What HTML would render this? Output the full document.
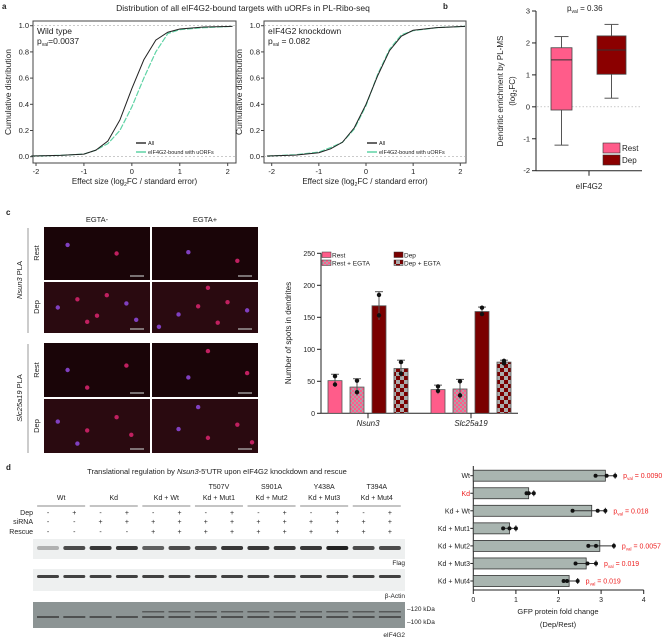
<!DOCTYPE html>
<html><head><meta charset="utf-8"><style>
body{margin:0;background:#fff}
svg{display:block;font-family:"Liberation Sans",sans-serif}
</style></head><body>
<svg id="fig" width="669" height="639" viewBox="0 0 669 639"></svg>
<script>
// ---- Panel a data ----
const cdfX = [-2.1,-1.5,-1,-0.75,-0.5,-0.25,0,0.25,0.5,0.75,1,1.5,2.1];
const wtAll = [0.005,0.01,0.02,0.05,0.12,0.28,0.52,0.74,0.89,0.95,0.975,0.99,0.995];
const wtUorf = [0.005,0.01,0.02,0.05,0.10,0.20,0.38,0.60,0.80,0.94,0.97,0.985,0.995];
const kdAll = [0.005,0.012,0.03,0.06,0.11,0.22,0.40,0.62,0.81,0.92,0.965,0.985,0.995];
const kdUorf = [0.005,0.015,0.035,0.07,0.11,0.21,0.39,0.63,0.82,0.93,0.962,0.985,0.995];
const cdfTicksX = [-2,-1,0,1,2];
const cdfTicksY = [0,0.2,0.4,0.6,0.8,1.0];
// ---- Panel b data ----
const boxGroups = ["Rest","Dep"];
const boxMin = [-1.2,0.27];
const boxQ1 = [-0.1,1.02];
const boxMed = [1.47,1.78];
const boxQ3 = [1.85,2.22];
const boxMax = [2.2,2.58];
const boxTicks = [-2,-1,0,1,2,3];
// ---- Panel c data ----
const cGenes = ["Nsun3","Slc25a19"];
const cConds = ["Rest","Rest + EGTA","Dep","Dep + EGTA"];
const cVals = [[51,41,168,70],[37,38,159,80]];
const cErr = [[10,13,22,13],[7,15,7,3]];
const cPts = [[[58,45],[51,33],[185,153],[80,62]],[[42,35],[50,28],[165,155],[78,82]]];
const cTicks = [0,50,100,150,200,250];
// ---- Panel d data ----
const dCats = ["Wt","Kd","Kd + Wt","Kd + Mut1","Kd + Mut2","Kd + Mut3","Kd + Mut4"];
const dVals = [3.1,1.3,2.78,0.85,2.97,2.65,2.25];
const dPts = [[2.87,3.13,3.33],[1.25,1.3,1.42],[2.33,2.92,3.1],[0.7,0.85,1.0],[2.7,2.88,3.3],[2.4,2.68,2.88],[2.12,2.2,2.45]];
const dPvals = ["0.0090","","0.018","","0.0057","0.019","0.019"];
const dTicks = [0,1,2,3,4];

const NS="http://www.w3.org/2000/svg";
const svg=document.getElementById('fig');
function el(tag,attrs,parent,txt){const e=document.createElementNS(NS,tag);for(const k in attrs)e.setAttribute(k,attrs[k]);if(txt!==undefined)e.textContent=txt;(parent||svg).appendChild(e);return e;}
function txt(x,y,s,size,opts,parent){opts=opts||{};const a={x:x,y:y,'font-size':size,fill:opts.fill||'#222'};if(opts.anchor)a['text-anchor']=opts.anchor;if(opts.weight)a['font-weight']=opts.weight;if(opts.style)a['font-style']=opts.style;if(opts.rot)a.transform='rotate(-90 '+x+' '+y+')';const t=el('text',a,parent,s);return t;}

[['a',2,9],['b',443,9],['c',6,215],['d',6,470]].forEach(p=>{const t=txt(p[1],p[2],p[0],8,{weight:'bold'});});

// ===== Panel a =====
let t=txt(243,11,"Distribution of all eIF4G2-bound targets with uORFs in PL-Ribo-seq",8.5,{anchor:'middle'});

function cdfPanel(name,fx0,fx1,fy0,fy1,xm2,x2,label,pv,allD,uD){
  const g=el('g',{},svg);
  const sx=v=>xm2+(v+2)/4*(x2-xm2);
  const yb=156.7,yt=25.7;const sy=v=>yb-v*(yb-yt);
  el('rect',{x:fx0,y:fy0,width:fx1-fx0,height:fy1-fy0,fill:'none',stroke:'#444','stroke-width':1},g);
  [0,1].forEach(v=>el('line',{x1:fx0,x2:fx1,y1:sy(v),y2:sy(v),stroke:'#aaa','stroke-dasharray':'2,2','stroke-width':0.6},g));
  cdfTicksY.forEach(v=>{el('line',{x1:fx0-3,x2:fx0,y1:sy(v),y2:sy(v),stroke:'#444'},g);txt(fx0-4,sy(v)+2.5,v.toFixed(1),7.5,{anchor:'end'},g);});
  cdfTicksX.forEach(v=>{el('line',{x1:sx(v),x2:sx(v),y1:fy1,y2:fy1+3,stroke:'#444'},g);txt(sx(v),fy1+11,String(v),7.5,{anchor:'middle'},g);});
  const mk=d=>cdfX.map((x,i)=>sx(x)+','+sy(d[i])).join(' ');
  let l=el('polyline',{points:mk(uD),fill:'none',stroke:'#5fd3a5','stroke-width':1.2,'stroke-dasharray':'6,1.5'},g);
  l=el('polyline',{points:mk(allD),fill:'none',stroke:'#222','stroke-width':1},g);
  txt(fx0+4,fy0+13,label,8.5,{},g);
  const p=el('text',{x:fx0+4,y:fy0+23,'font-size':8.5,fill:'#222'},g);
  p.innerHTML='p<tspan font-size="5" dy="2">val</tspan><tspan dy="-2">'+pv+'</tspan>';
  const lg=el('g',{},g);
  el('line',{x1:fx0+103,x2:fx0+113,y1:143,y2:143,stroke:'#333','stroke-width':1.5},lg);txt(fx0+115,145,'All',5.5,{},lg);
  el('line',{x1:fx0+103,x2:fx0+113,y1:152,y2:152,stroke:'#5fd3a5','stroke-width':1.5},lg);txt(fx0+115,154,'eIF4G2-bound with uORFs',5.5,{},lg);
  txt(fx0-22,(fy0+fy1)/2,'Cumulative distribution',8.5,{anchor:'middle',rot:1},g);
  const xl=el('text',{x:(fx0+fx1)/2,y:184,'font-size':8,fill:'#222','text-anchor':'middle'},g);
  xl.innerHTML='Effect size (log<tspan font-size="5" dy="2">2</tspan><tspan dy="-2">FC / standard error)</tspan>';
}
cdfPanel('cdf-wild-type',33,236,21,163,36,227.7,'Wild type','=0.0037',wtAll,wtUorf);
cdfPanel('cdf-knockdown',264,466,21,163,271.7,460.3,'eIF4G2 knockdown',' = 0.082',kdAll,kdUorf);

// ===== Panel b =====
(function(){
  const g=el('g',{},svg);
  const y0=170.7,y3=11;const sy=v=>y0-(v+2)/5*(y0-y3);
  el('line',{x1:536,x2:536,y1:y3,y2:y0,stroke:'#222'},g);
  el('line',{x1:536,x2:642,y1:y0,y2:y0,stroke:'#222'},g);
  el('line',{x1:589,x2:589,y1:y0,y2:y0+5,stroke:'#222'},g);
  boxTicks.forEach(v=>{el('line',{x1:532,x2:536,y1:sy(v),y2:sy(v),stroke:'#222'},g);txt(530,sy(v)+2.5,String(v),7.5,{anchor:'end'},g);});
  el('line',{x1:537,x2:642,y1:sy(0),y2:sy(0),stroke:'#aaa','stroke-dasharray':'1.5,2','stroke-width':0.6},g);
  const cx=[561.5,611.5],w=[21,29],col=['#ff5c8a','#8b0000'];
  boxGroups.forEach((n,i)=>{
    const b=el('g',{},g);
    el('line',{x1:cx[i],x2:cx[i],y1:sy(boxMin[i]),y2:sy(boxMax[i]),stroke:'#555'},b);
    [boxMin[i],boxMax[i]].forEach(v=>el('line',{x1:cx[i]-7,x2:cx[i]+7,y1:sy(v),y2:sy(v),stroke:'#555'},b));
    el('rect',{x:cx[i]-w[i]/2,y:sy(boxQ3[i]),width:w[i],height:sy(boxQ1[i])-sy(boxQ3[i]),fill:col[i],stroke:'#444','stroke-width':0.8},b);
    el('line',{x1:cx[i]-w[i]/2,x2:cx[i]+w[i]/2,y1:sy(boxMed[i]),y2:sy(boxMed[i]),stroke:'#333'},b);
    el('rect',{x:603,y:[143,155][i],width:17,height:10,fill:col[i],stroke:'#333','stroke-width':0.6},g);
    txt(622,[151,163][i],n,8,{},g);
  });
  const p=el('text',{x:567,y:11,'font-size':8,fill:'#222'},g);p.innerHTML='p<tspan font-size="5" dy="2">val</tspan><tspan dy="-2"> = 0.36</tspan>';
  txt(589,189,'eIF4G2',8,{anchor:'middle'},g);
  txt(503,91,'Dendritic enrichment by PL-MS',8,{anchor:'middle',rot:1},g);
  const yl=el('text',{x:515,y:91,'font-size':8,fill:'#222','text-anchor':'middle',transform:'rotate(-90 515 91)'},g);
  yl.innerHTML='(log<tspan font-size="5" dy="2">2</tspan><tspan dy="-2">FC)</tspan>';
})();

// ===== Panel c images =====
(function(){
  const g=el('g',{},svg);
  txt(97,222,'EGTA-',7.5,{anchor:'middle'},g);txt(205,222,'EGTA+',7.5,{anchor:'middle'},g);
  const rows=[[227,280],[282,333],[343,397],[399,453]];const cols=[[44,150],[152,258]];
  const dots=[[[0.2,0.3],[0.7,0.5]],[[0.1,0.5],[0.3,0.3],[0.5,0.7],[0.8,0.4],[0.6,0.2],[0.4,0.85],[0.9,0.8]],[[0.2,0.5],[0.8,0.4],[0.4,0.9]],[[0.1,0.4],[0.4,0.6],[0.7,0.3],[0.3,0.9],[0.85,0.7]]];
  rows.forEach((r,ri)=>cols.forEach((c,ci)=>{
    const p=el('g',{},g);
    el('rect',{x:c[0],y:r[0],width:c[1]-c[0],height:r[1]-r[0],fill:ri%2?'#2a0a10':'#1a0508'},p);
    dots[ri].forEach((d,k)=>el('circle',{cx:c[0]+((d[0]+ci*0.13)%1)*(c[1]-c[0]-8)+4,cy:r[0]+((d[1]+ci*0.17)%1)*(r[1]-r[0]-10)+5,r:2.2,fill:k%3?'#c02060':'#8040c0'},p));
    el('line',{x1:c[1]-20,x2:c[1]-6,y1:r[1]-4,y2:r[1]-4,stroke:'#bbb','stroke-width':1.2},p);
  }));
  [['Rest',253],['Dep',307],['Rest',370],['Dep',426]].forEach(l=>txt(39,l[1],l[0],7.5,{anchor:'middle',rot:1},g));
  el('line',{x1:28,x2:28,y1:228,y2:333,stroke:'#999'},g);el('line',{x1:28,x2:28,y1:344,y2:453,stroke:'#999'},g);
  const a=el('text',{x:22,y:280,'font-size':7.5,fill:'#222','text-anchor':'middle',transform:'rotate(-90 22 280)'},g);a.innerHTML='<tspan font-style="italic">Nsun3</tspan> PLA';
  const b=el('text',{x:22,y:398,'font-size':7.5,fill:'#222','text-anchor':'middle',transform:'rotate(-90 22 398)'},g);b.innerHTML='<tspan font-style="italic">Slc25a19</tspan> PLA';
})();

// ===== Panel c bars =====
(function(){
  const g=el('g',{},svg);
  const defs=el('defs',{},g);
  const p1=el('pattern',{id:'chkR',width:4,height:4,patternUnits:'userSpaceOnUse'},defs);
  el('rect',{width:4,height:4,fill:'#ff5c8a'},p1);el('rect',{width:2,height:2,fill:'#b0a0a8'},p1);el('rect',{x:2,y:2,width:2,height:2,fill:'#b0a0a8'},p1);
  const p2=el('pattern',{id:'chkD',width:8,height:8,patternUnits:'userSpaceOnUse'},defs);
  el('rect',{width:8,height:8,fill:'#7a0000'},p2);el('rect',{width:4,height:4,fill:'#aaa'},p2);el('rect',{x:4,y:4,width:4,height:4,fill:'#aaa'},p2);
  const fills=['#ff5c8a','url(#chkR)','#7a0000','url(#chkD)'];
  const y0=413.3,yT=253.3;const sy=v=>y0-v/250*(y0-yT);
  el('line',{x1:321,x2:321,y1:yT,y2:y0,stroke:'#222'},g);el('line',{x1:321,x2:518,y1:y0,y2:y0,stroke:'#222'},g);
  cTicks.forEach(v=>{el('line',{x1:317,x2:321,y1:sy(v),y2:sy(v),stroke:'#222'},g);txt(315,sy(v)+2.5,String(v),7,{anchor:'end'},g);});
  const gx=[368,471],off=[-33,-11,11,33],bw=14;
  cGenes.forEach((gn,gi)=>{
    el('line',{x1:gx[gi],x2:gx[gi],y1:y0,y2:y0+5,stroke:'#222'},g);
    txt(gx[gi],426,gn,8,{anchor:'middle',style:'italic'},g);
    cConds.forEach((c,ci)=>{
      const cx=gx[gi]+off[ci],v=cVals[gi][ci],e=cErr[gi][ci];
      const r=el('rect',{x:cx-bw/2,y:sy(v),width:bw,height:y0-sy(v),fill:fills[ci],stroke:'#555','stroke-width':0.8},g);
      
      el('line',{x1:cx,x2:cx,y1:sy(v-e),y2:sy(v+e),stroke:'#555'},g);
      el('line',{x1:cx-4,x2:cx+4,y1:sy(v+e),y2:sy(v+e),stroke:'#555'},g);
      cPts[gi][ci].forEach(pv=>el('circle',{cx:cx,cy:sy(pv),r:2.2,fill:'#111'},g));
    });
  });
  txt(291,333,'Number of spots in dendrites',8,{anchor:'middle',rot:1},g);
  const lg=el('g',{},g);
  [[322,252,0],[394,252,2],[322,260,1],[394,260,3]].forEach(l=>{el('rect',{x:l[0],y:l[1],width:9,height:5.5,fill:fills[l[2]],stroke:'#333','stroke-width':0.5},lg);txt(l[0]+10,l[1]+5.5,cConds[l[2]],6.5,{},lg);});
})();

// ===== Panel d western =====
(function(){
  const g=el('g',{},svg);
  const tt=el('text',{x:217,y:474,'font-size':7.5,fill:'#222','text-anchor':'middle'},g);
  tt.innerHTML='Translational regulation by <tspan font-style="italic">Nsun3</tspan>-5\'UTR upon eIF4G2 knockdown and rescue';
  const lx=i=>48+26.3*i;
  const groups=['Wt','Kd','Kd + Wt','Kd + Mut1','Kd + Mut2','Kd + Mut3','Kd + Mut4'];
  const muts=['','','','T507V','S901A','Y438A','T394A'];
  groups.forEach((n,i)=>{const cx=(lx(2*i)+lx(2*i+1))/2;txt(cx,500,n,7,{anchor:'middle'},g);if(muts[i])txt(cx,489,muts[i],7,{anchor:'middle'},g);el('line',{x1:cx-24,x2:cx+24,y1:506,y2:506,stroke:'#888'},g);});
  const dep=['-','+','-','+','-','+','-','+','-','+','-','+','-','+'];
  const si=['-','-','+','+','+','+','+','+','+','+','+','+','+','+'];
  const re=['-','-','-','-','+','+','+','+','+','+','+','+','+','+'];
  [['Dep',513,dep],['siRNA',522,si],['Rescue',532,re]].forEach(r=>{txt(33,r[1]+2,r[0],7,{anchor:'end'},g);r[2].forEach((s,i)=>txt(lx(i),r[1]+2,s,7,{anchor:'middle'},g));});
  el('rect',{x:33,y:539,width:372,height:20,fill:'#eef0f0'},g);
  el('rect',{x:33,y:569,width:372,height:22,fill:'#eef0f0'},g);
  el('rect',{x:33,y:602,width:372,height:26,fill:'#8c9494'},g);
  const fl=[0.3,0.8,0.9,0.9,0.7,0.8,0.8,0.9,0.9,0.9,0.9,1,0.8,0.8];
  fl.forEach((w,i)=>{
    el('rect',{x:lx(i)-11,y:546,width:22,height:4,rx:2,fill:'#222','fill-opacity':w},g);
    el('rect',{x:lx(i)-11,y:575,width:22,height:3,rx:1.5,fill:'#222','fill-opacity':0.85},g);
    el('rect',{x:lx(i)-11,y:616,width:22,height:2,fill:'#333','fill-opacity':0.7},g);
    if(i>3)el('rect',{x:lx(i)-11,y:611,width:22,height:1.5,fill:'#333','fill-opacity':0.6},g);
  });
  txt(405,565,'Flag',6.5,{anchor:'end'},g);txt(405,598,'β-Actin',6.5,{anchor:'end'},g);txt(405,637,'eIF4G2',6.5,{anchor:'end'},g);
  txt(407,611,'–120 kDa',6.5,{},g);txt(407,624,'–100 kDa',6.5,{},g);
})();

// ===== Panel d bars =====
(function(){
  const g=el('g',{},svg);
  const x0=473.3,x4=643.7;const sx=v=>x0+v/4*(x4-x0);
  const cy=i=>475.7+i*17.55;const bh=11;
  el('line',{x1:x0,x2:x0,y1:466,y2:590,stroke:'#222'},g);el('line',{x1:x0,x2:x4,y1:590,y2:590,stroke:'#222'},g);
  dTicks.forEach(v=>{el('line',{x1:sx(v),x2:sx(v),y1:590,y2:594,stroke:'#222'},g);txt(sx(v),602,String(v),7,{anchor:'middle'},g);});
  dCats.forEach((c,i)=>{
    el('line',{x1:x0-3,x2:x0,y1:cy(i),y2:cy(i),stroke:'#222'},g);
    txt(470,cy(i)+2.5,c,7,{anchor:'end',fill:c==='Kd'?'#ee2222':'#222'},g);
    const r=el('rect',{x:x0,y:cy(i)-bh/2,width:sx(dVals[i])-x0,height:bh,fill:'#a9b5b0',stroke:'#333','stroke-width':0.8},g);
    
    const mn=Math.min(...dPts[i]),mx=Math.max(...dPts[i]);
    el('line',{x1:sx(mn),x2:sx(mx),y1:cy(i),y2:cy(i),stroke:'#333'},g);
    el('line',{x1:sx(mx),x2:sx(mx),y1:cy(i)-3,y2:cy(i)+3,stroke:'#333'},g);
    dPts[i].forEach(v=>el('circle',{cx:sx(v),cy:cy(i),r:2,fill:'#111'},g));
    if(dPvals[i]){const p=el('text',{x:sx(mx)+8,y:cy(i)+2.5,'font-size':7,fill:'#ee2222'},g);p.innerHTML='p<tspan font-size="4.5" dy="2">val</tspan><tspan dy="-2"> = '+dPvals[i]+'</tspan>';}
  });
  txt(558,614,'GFP protein fold change',7.5,{anchor:'middle'},g);txt(558,627,'(Dep/Rest)',7.5,{anchor:'middle'},g);
})();
</script>
</body></html>
